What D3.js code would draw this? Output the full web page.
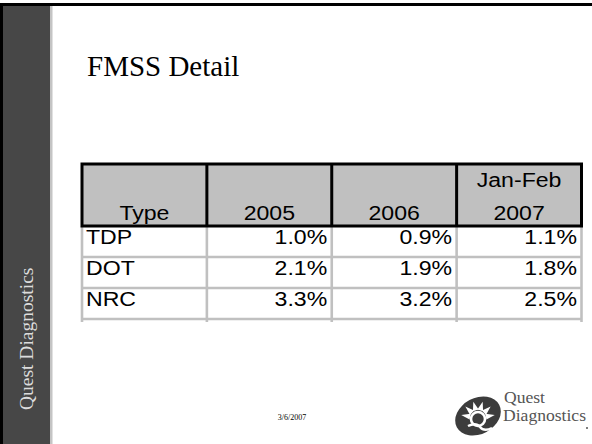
<!DOCTYPE html>
<html>
<head>
<meta charset="utf-8">
<script src="https://cdn.jsdelivr.net/npm/d3@7"></script>
<style>
  body { margin: 0; background: #fff; }
  svg { display: block; }
</style>
</head>
<body>
<script>
// table data
var types = ["TDP", "DOT", "NRC"];
var periods = ["2005", "2006", "Jan-Feb 2007"];
var v2005 = [1.0, 2.1, 3.3];
var v2006 = [0.9, 1.9, 3.2];
var v2007 = [1.1, 1.8, 2.5];
var columnLabels = ["Type", "2005", "2006", "Jan-Feb\n2007"];

var width = 592, height = 444;

var svg = d3.select("body").append("svg")
    .attr("width", width)
    .attr("height", height);

// slide frame + sidebar
svg.append("rect").attr("x", 0).attr("y", 0).attr("width", width).attr("height", height).attr("fill", "#fff");
svg.append("rect").attr("x", 3).attr("y", 6).attr("width", 47).attr("height", height - 6).attr("fill", "#474747");
svg.append("rect").attr("x", 50).attr("y", 6).attr("width", 2.5).attr("height", height - 6).attr("fill", "#c4c4c4");
svg.append("rect").attr("x", 0).attr("y", 3).attr("width", width).attr("height", 3).attr("fill", "#000");
svg.append("rect").attr("x", 0).attr("y", 3).attr("width", 3).attr("height", height - 3).attr("fill", "#000");

svg.append("text")
    .attr("transform", "translate(33,410) rotate(-90)")
    .attr("font-family", "'Liberation Serif', 'Times New Roman', serif")
    .attr("font-size", 19.5)
    .attr("fill", "#dcdcdc")
    .text("Quest Diagnostics");

// title
svg.append("text")
    .attr("x", 87).attr("y", 76)
    .attr("font-family", "'Liberation Serif', 'Times New Roman', serif")
    .attr("font-size", 29)
    .attr("fill", "#000")
    .text("FMSS Detail");

// scales
var cols = ["Type"].concat(periods);
var x = d3.scaleBand().domain(cols).range([82, 581.5]);
var y = d3.scaleBand().domain(types).range([226, 319]);
var headerTop = 164, headerBottom = y.range()[0];

var rows = types.map(function(t, i) {
  return { type: t, values: [v2005[i], v2006[i], v2007[i]] };
});

var table = svg.append("g");
var font = "'Liberation Sans', Arial, sans-serif";

// body grid (light gray)
var grid = table.append("g").attr("stroke", "#c0c0c0").attr("stroke-width", 2.6);
grid.selectAll(".hline").data(types).enter().append("line")
    .attr("x1", x.range()[0]).attr("x2", x.range()[1])
    .attr("y1", function(d) { return y(d) + y.bandwidth(); })
    .attr("y2", function(d) { return y(d) + y.bandwidth(); });
grid.selectAll(".vline").data(cols.concat(["end"])).enter().append("line")
    .attr("x1", function(d) { return d === "end" ? x.range()[1] : x(d); })
    .attr("x2", function(d) { return d === "end" ? x.range()[1] : x(d); })
    .attr("y1", headerBottom)
    .attr("y2", y.range()[1] + 3);

// header
table.append("rect")
    .attr("x", x.range()[0]).attr("y", headerTop)
    .attr("width", x.range()[1] - x.range()[0])
    .attr("height", headerBottom - headerTop)
    .attr("fill", "#c0c0c0")
    .attr("stroke", "#000").attr("stroke-width", 3);
table.selectAll(".hdiv").data(cols.slice(1)).enter().append("line")
    .attr("x1", function(d) { return x(d); }).attr("x2", function(d) { return x(d); })
    .attr("y1", headerTop).attr("y2", headerBottom)
    .attr("stroke", "#000").attr("stroke-width", 3);

table.selectAll(".htext").data(columnLabels).enter().append("text")
    .attr("font-family", font)
    .attr("font-size", 21)
    .attr("fill", "#000")
    .attr("text-anchor", "middle")
    .attr("transform", function(d, i) {
      return "translate(" + (x(cols[i]) + x.bandwidth() / 2) + "," + (headerBottom - 6) + ") scale(1.1,1)";
    })
    .each(function(d) {
      var lines = d.split("\n");
      var t = d3.select(this);
      lines.forEach(function(l, k) {
        t.append("tspan").attr("x", 0).attr("y", (k - lines.length + 1) * 33).text(l);
      });
    });

// body text
var rowG = table.selectAll(".row").data(rows).enter().append("g")
    .attr("transform", function(d) { return "translate(0," + (y(d.type) + y.bandwidth() - 13.5) + ")"; });

rowG.append("text")
    .attr("font-family", font).attr("font-size", 21).attr("fill", "#000")
    .attr("transform", "translate(" + (x("Type") + 4) + ",0) scale(1.1,1)")
    .text(function(d) { return d.type; });

rowG.selectAll(".val").data(function(d) { return d.values; }).enter().append("text")
    .attr("font-family", font).attr("font-size", 21).attr("fill", "#000")
    .attr("text-anchor", "end")
    .attr("transform", function(d, i) {
      return "translate(" + (x(periods[i]) + x.bandwidth() - 4.5) + ",0) scale(1.1,1)";
    })
    .text(function(d) { return d3.format(".1f")(d) + "%"; });

// footer date
svg.append("text")
    .attr("x", 292).attr("y", 420)
    .attr("text-anchor", "middle")
    .attr("font-family", "'Liberation Serif', 'Times New Roman', serif")
    .attr("font-size", 8)
    .attr("fill", "#000")
    .text("3/6/2007");

// logo
var logo = svg.append("g").attr("transform", "translate(478,416)");
logo.append("ellipse")
    .attr("rx", 24).attr("ry", 18)
    .attr("transform", "rotate(-28)")
    .attr("fill", "#3c3c3c");
var rays = d3.range(-80, 81, 32);
logo.selectAll(".ray").data(rays).enter().append("path")
    .attr("d", "M-3,-8 L0,-17 L3,-8 Z")
    .attr("transform", function(d) { return "translate(0,2) rotate(" + d + ")"; })
    .attr("fill", "#fff");
logo.append("circle").attr("cx", 0).attr("cy", 3).attr("r", 7)
    .attr("fill", "none").attr("stroke", "#fff").attr("stroke-width", 2.6);
logo.append("path")
    .attr("d", "M-10,10 Q-2,6 2,11 Q6,16 14,12")
    .attr("fill", "none").attr("stroke", "#fff").attr("stroke-width", 2.4);

var logoFont = "'Liberation Serif', 'Times New Roman', serif";
svg.append("text")
    .attr("transform", "translate(504,403) scale(1.1,1)")
    .attr("font-family", logoFont)
    .attr("font-size", 16).attr("fill", "#555")
    .text("Quest");
svg.append("text")
    .attr("transform", "translate(503,421) scale(1.1,1)")
    .attr("font-family", logoFont)
    .attr("font-size", 16).attr("fill", "#555")
    .text("Diagnostics");
svg.append("circle").attr("cx", 587).attr("cy", 428).attr("r", 1).attr("fill", "#555");
</script>
</body>
</html>
